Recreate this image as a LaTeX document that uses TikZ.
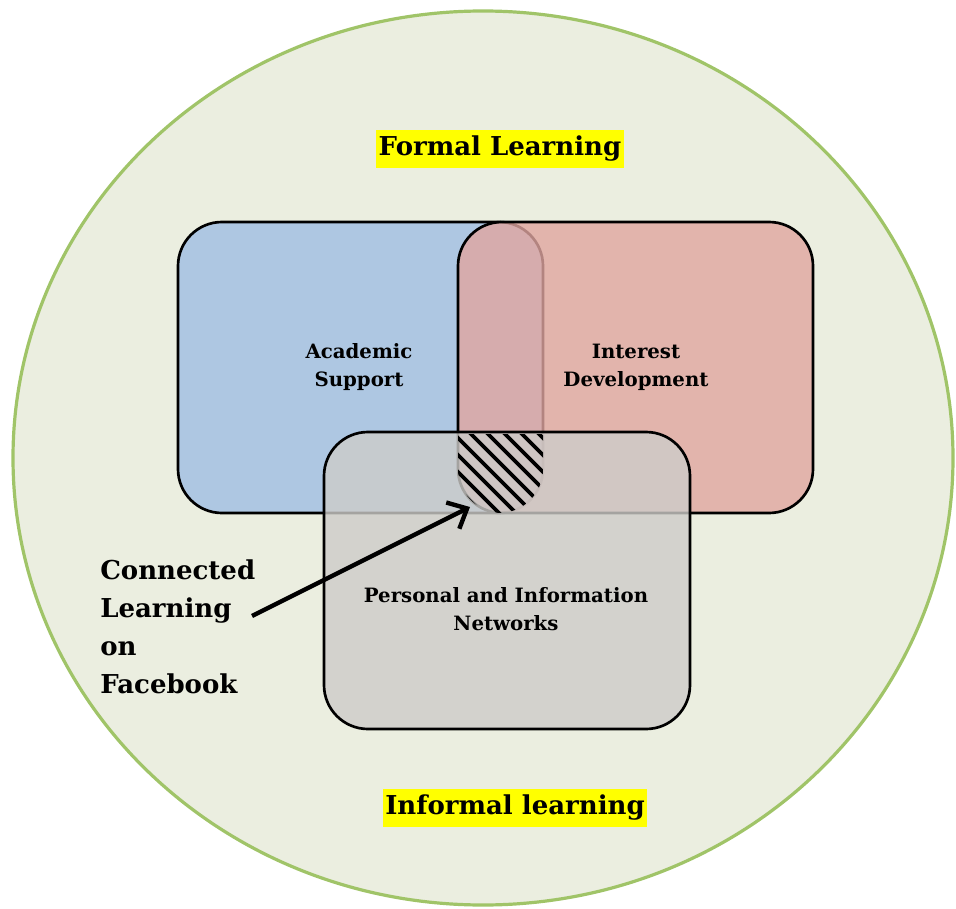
\documentclass[tikz,border=0pt]{standalone}
\usepackage{fontspec}
\setmainfont{DejaVu Serif}
\usetikzlibrary{arrows.meta}
\definecolor{bgfill}{RGB}{235,238,224}
\definecolor{ringgreen}{RGB}{160,196,104}
\definecolor{boxblue}{RGB}{174,199,226}
\definecolor{boxred}{RGB}{224,166,160}
\definecolor{boxgray}{RGB}{205,204,201}
\definecolor{hilite}{RGB}{255,255,0}
\tikzset{
  box/.style={rounded corners=33pt, line width=2pt, draw=black},
  bigtxt/.style={font=\fontsize{19.5}{28.5}\selectfont\bfseries, align=left},
  hltxt/.style={font=\fontsize{19.5}{24}\selectfont\bfseries, fill=hilite, inner xsep=2pt, inner ysep=4.5pt},
  smalltxt/.style={font=\fontsize{14.8}{21}\selectfont\bfseries, align=center, inner sep=0pt},
  hatchline/.style={line width=2.8pt, black},
  pointer/.style={line width=3.3pt, -{Straight Barb[length=12pt,width=22pt,line width=3.3pt]}}
}
\begin{document}
\begin{tikzpicture}[x=0.75pt,y=-0.75pt]
\useasboundingbox (0,0) rectangle (956,909);
% outer ellipse
\draw[fill=bgfill, draw=ringgreen, line width=2.4pt] (483,458) ellipse [x radius=470, y radius=447];
% boxes
\draw[box, fill=boxblue] (178,222) rectangle (543,513);
\draw[box, fill=boxred, fill opacity=0.8] (458,222) rectangle (813,513);
\draw[box, fill=boxgray, fill opacity=0.8] (324,432) rectangle (690,729);
% hatched overlap
\begin{scope}
  \clip[rounded corners=33pt] (178,222) rectangle (543,513);
  \clip[rounded corners=33pt] (458,222) rectangle (813,513);
  \clip (324,434) rectangle (690,729);
  \foreach \k in {0,...,16} {
    \draw[hatchline] (335+17*\k,400) -- (335+17*\k+160,560);
  }
\end{scope}
% labels
\node[hltxt] (formal) at (500,149) {Formal Learning};
\node[hltxt] (informal) at (515,808) {Informal learning};
\node[smalltxt] (acad) at (359,367) {Academic\\Support};
\node[smalltxt] (inter) at (636,367) {Interest\\Development};
\node[smalltxt] (pers) at (506,609) {Personal and Information\\Networks};
\node[bigtxt, anchor=west, inner sep=0pt] (fb) at (100,627) {Connected\\Learning\\on\\Facebook};
% arrow
\coordinate (tail) at (252,616);
\coordinate (tip) at (470,507);
\draw[pointer] (tail) -- (tip);
\end{tikzpicture}
\end{document}
